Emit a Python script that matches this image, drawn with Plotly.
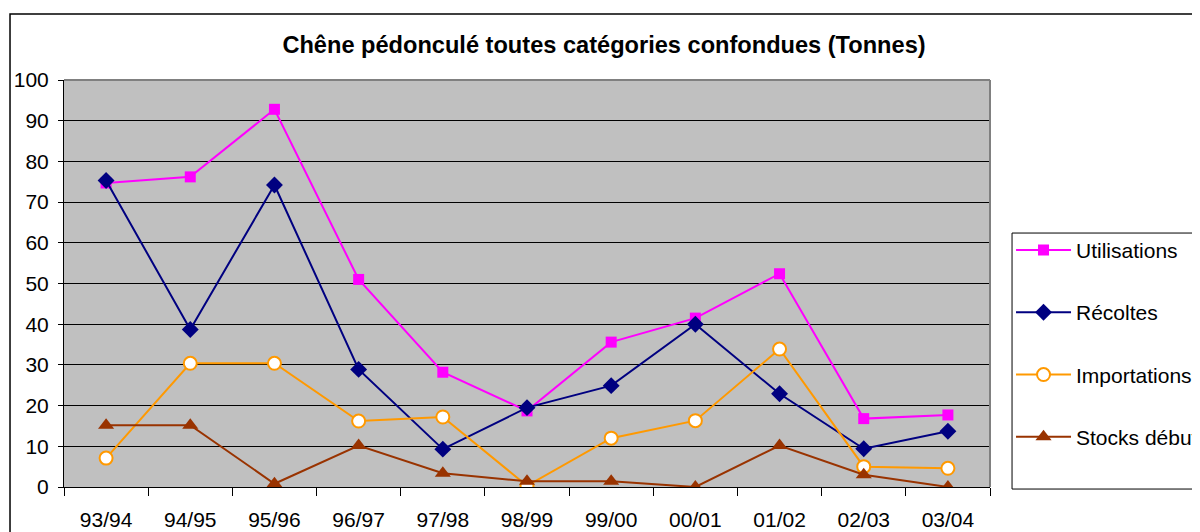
import plotly.graph_objects as go

campagnes = ["93/94", "94/95", "95/96", "96/97", "97/98", "98/99",
             "99/00", "00/01", "01/02", "02/03", "03/04"]
utilisations = [74.7, 76.2, 92.8, 51.0, 28.2, 18.7, 35.6, 41.5, 52.4, 16.8, 17.7]
recoltes = [75.3, 38.7, 74.2, 28.9, 9.3, 19.5, 24.9, 40.0, 22.9, 9.4, 13.7]
importations = [7.1, 30.4, 30.4, 16.2, 17.2, 0.3, 12.0, 16.3, 33.9, 5.0, 4.6]
stocks = [15.2, 15.2, 0.8, 10.2, 3.4, 1.4, 1.4, 0.0, 10.2, 3.0, 0.0]

FONT = "Liberation Sans, Arial, sans-serif"

fig = go.Figure()
fig.add_trace(go.Scatter(
    x=campagnes, y=utilisations, name="Utilisations", mode="lines+markers",
    line=dict(color="#ff00ff", width=2),
    marker=dict(symbol="square", size=11, color="#ff00ff"),
    legendgroup="a",
))
fig.add_trace(go.Scatter(
    x=campagnes, y=recoltes, name="Récoltes", mode="lines+markers",
    line=dict(color="#000080", width=2),
    marker=dict(symbol="diamond", size=13, color="#000080"),
    legendgroup="b",
))
fig.add_trace(go.Scatter(
    x=campagnes, y=importations, name="Importations", mode="lines+markers",
    line=dict(color="#ff9900", width=2),
    marker=dict(symbol="circle", size=13, color="#ffffff",
                line=dict(color="#ff9900", width=2)),
    legendgroup="c",
))
fig.add_trace(go.Scatter(
    x=campagnes, y=stocks, name="Stocks début", mode="lines+markers",
    line=dict(color="#993300", width=2),
    marker=dict(symbol="triangle-up", size=14, color="#993300"),
    legendgroup="d",
))

# the page body adds an 8px margin, so the figure is 8px smaller each way
fig.update_layout(
    width=1192, height=524,
    margin=dict(l=56, r=210, t=72, b=45, autoexpand=False),
    paper_bgcolor="white",
    plot_bgcolor="#c0c0c0",
    font=dict(family=FONT, size=21, color="black"),
    title=dict(text="<b>Chêne pédonculé toutes catégories confondues (Tonnes)</b>",
               x=0.5, xanchor="center", y=1 - 37 / 524, yanchor="middle",
               font=dict(size=23.6)),
    showlegend=True,
    legend=dict(
        x=1.0227, y=0.632, xanchor="left", yanchor="top",
        borderwidth=0, bgcolor="rgba(0,0,0,0)",
        traceorder="grouped", tracegroupgap=32, itemwidth=55,
        font=dict(size=21),
    ),
    shapes=[
        # outer chart frame
        dict(type="rect", xref="paper", yref="paper",
             x0=-0.0583, x1=1.4, y0=-0.3, y1=1.162,
             line=dict(color="black", width=1.5), layer="below"),
        # legend frame
        dict(type="rect", xref="paper", yref="paper",
             x0=1.0238, x1=1.3, y0=-0.005, y1=0.624,
             line=dict(color="black", width=1), fillcolor="white",
             layer="below"),
    ],
)
fig.update_xaxes(
    type="category", tickson="boundaries", ticks="outside", ticklen=8,
    tickcolor="black", showline=True, linecolor="black", linewidth=1,
    showgrid=False, range=[-0.5, 10.5], ticklabelstandoff=14,
    automargin=False,
)
fig.update_yaxes(
    range=[0, 100], dtick=10, ticks="outside", ticklen=5, tickcolor="black",
    showline=True, linecolor="black", linewidth=1, ticklabelstandoff=5,
    gridcolor="black", gridwidth=1, zeroline=False, automargin=False,
)
# grey frame on top/right of plot area
fig.add_shape(type="line", xref="paper", yref="paper", x0=0, x1=1, y0=1, y1=1,
              line=dict(color="#808080", width=2))
fig.add_shape(type="line", xref="paper", yref="paper", x0=1, x1=1, y0=0, y1=1,
              line=dict(color="#808080", width=2))

fig.write_html("out.html")
